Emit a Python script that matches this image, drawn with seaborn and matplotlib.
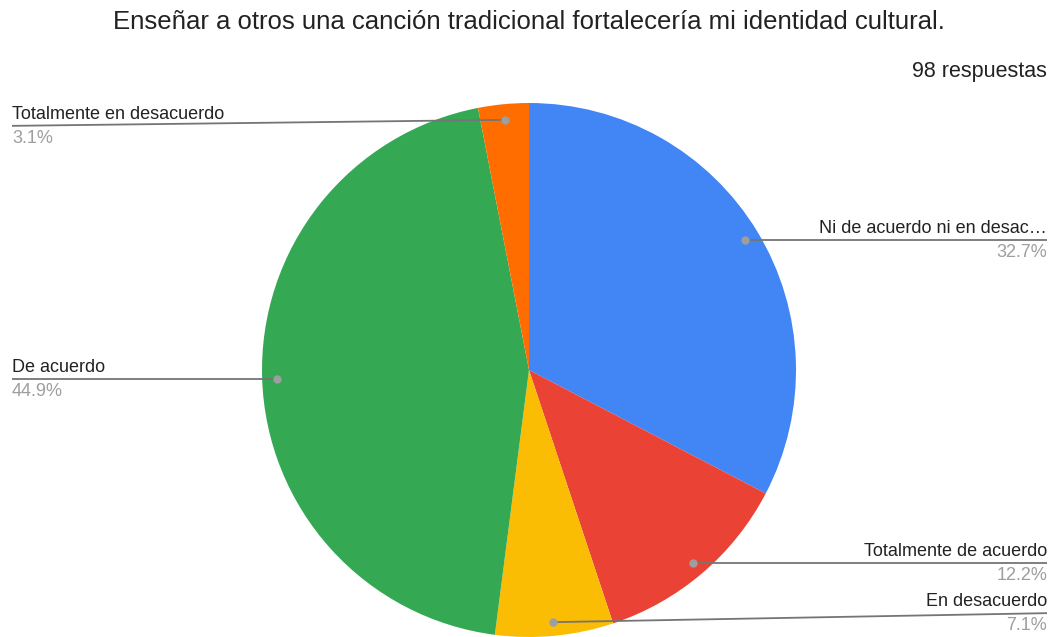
import matplotlib
matplotlib.use("Agg")
import matplotlib.pyplot as plt
import seaborn as sns
import numpy as np

sns.set_theme(style="white")
plt.rcParams['font.family'] = ['Liberation Sans', 'DejaVu Sans']

title = "Enseñar a otros una canción tradicional fortalecería mi identidad cultural."
subtitle = "98 respuestas"
labels = ["Ni de acuerdo ni en desac…", "Totalmente de acuerdo", "En desacuerdo",
          "De acuerdo", "Totalmente en desacuerdo"]
counts = [32, 12, 7, 44, 3]
colors = ["#4285F4", "#EA4335", "#FBBC04", "#34A853", "#FF6D01"]
# vertical shift (px) of label line end relative to the dot, to avoid overlaps
label_shift = [0, 0, -9, 0, 6]

W, H = 1050, 637
fig = plt.figure(figsize=(W / 100, H / 100), dpi=100)
ax = fig.add_axes([0, 0, 1, 1])

cx, cy, r = 529, H - 370, 267
wedges, _ = ax.pie(counts, colors=colors, startangle=90, counterclock=False,
                   center=(cx, cy), radius=r, frame=True,
                   wedgeprops=dict(linewidth=0))
ax.set_xlim(0, W)
ax.set_ylim(0, H)
ax.set_aspect("equal")
ax.axis("off")

total = sum(counts)
for w, lab, n, dy in zip(wedges, labels, counts, label_shift):
    ang = np.deg2rad((w.theta1 + w.theta2) / 2)
    px = cx + 0.945 * r * np.cos(ang)
    py = cy + 0.945 * r * np.sin(ang) - 1
    ey = py - dy
    right = np.cos(ang) > 0
    ex = 1047 if right else 12
    ha = "right" if right else "left"
    ax.plot([px, ex], [py, ey], color="#757575", lw=1.3, solid_capstyle="butt", zorder=3)
    ax.plot(px, py, "o", ms=6, color="#9E9E9E", mec="none", zorder=4)
    ax.text(ex, ey + 3, lab, ha=ha, va="bottom", fontsize=13, color="#222222")
    ax.text(ex, ey - 4, f"{100 * n / total:.1f}%", ha=ha, va="top", fontsize=13,
            color="#9E9E9E")

fig.text(529 / W, 1 - 22 / H, title, ha="center", va="center", fontsize=18.5, color="#222222")
fig.text(1047 / W, 1 - 71 / H, subtitle, ha="right", va="center", fontsize=15.5, color="#222222")

fig.savefig("out.png", dpi=100)
